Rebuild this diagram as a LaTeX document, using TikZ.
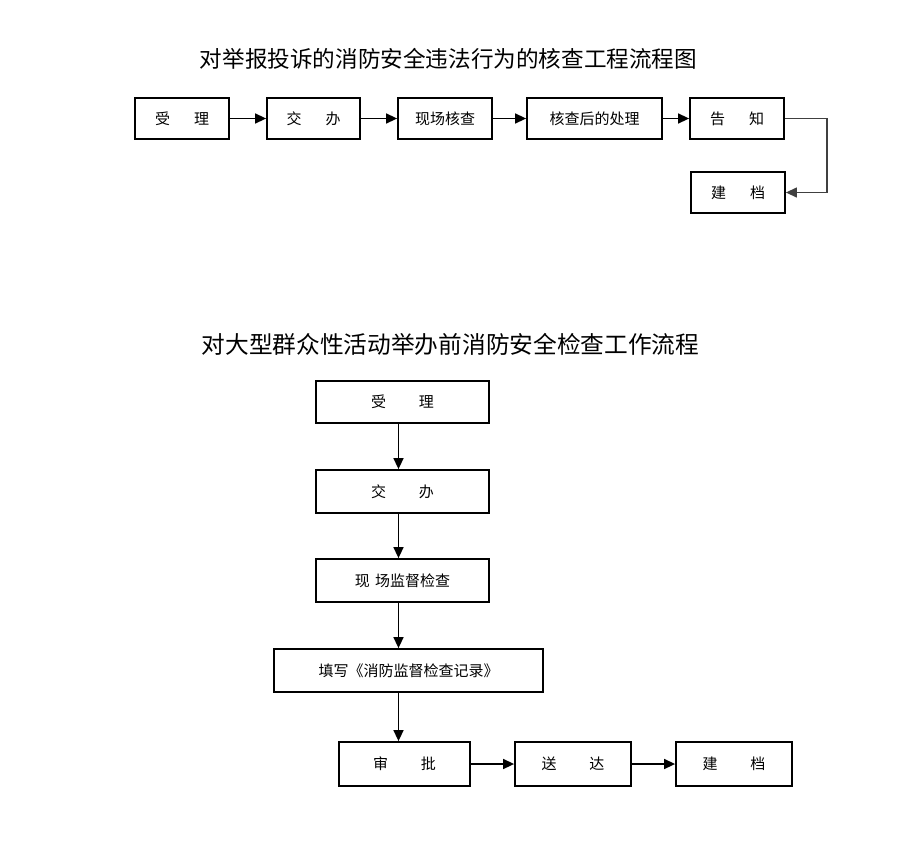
\documentclass[tikz,border=0pt]{standalone}
\usepackage{fontspec}
\setmainfont{Noto Sans CJK SC}
\usetikzlibrary{arrows.meta}
\begin{document}
\begin{tikzpicture}[x=1pt,y=-1pt,
  box/.style={draw=black,line width=1.8pt,rectangle,inner sep=0pt,font=\fontsize{15pt}{15pt}\selectfont},
  arr/.style={line width=1.5pt,-{Triangle[length=11pt,width=10pt]}},
  ttl/.style={inner sep=0pt}]
\useasboundingbox (0,0) rectangle (900,849);
% titles
\node[ttl,font=\fontsize{22.6pt}{23pt}\selectfont] (t1) at (448.5,59) {对举报投诉的消防安全违法行为的核查工程流程图};
\node[ttl,font=\fontsize{23.7pt}{24pt}\selectfont] (t2) at (450.5,344) {对大型群众性活动举办前消防安全检查工作流程};
% top flow
\node[box,minimum width=94pt,minimum height=41pt] (a1) at (182,118.5) {受\hspace{1.6em}理};
\node[box,minimum width=93pt,minimum height=41pt] (a2) at (313.5,118.5) {交\hspace{1.6em}办};
\node[box,minimum width=94pt,minimum height=41pt] (a3) at (445,118.5) {现场核查};
\node[box,minimum width=135pt,minimum height=41pt] (a4) at (594.5,118.5) {核查后的处理};
\node[box,minimum width=94pt,minimum height=41pt] (a5) at (737,118.5) {告\hspace{1.6em}知};
\node[box,minimum width=94pt,minimum height=41pt] (a6) at (738,192.5) {建\hspace{1.6em}档};
\draw[arr] (a1.east) -- (a2.west);
\draw[arr] (a2.east) -- (a3.west);
\draw[arr] (a3.east) -- (a4.west);
\draw[arr] (a4.east) -- (a5.west);
\coordinate (turn) at (827,0);
\draw[arr,line width=1.3pt,draw=black!75] (a5.east) -- (a5.east -| turn) -- (a6.east -| turn) -- (a6.east);
% bottom flow
\node[box,minimum width=173pt,minimum height=42pt] (b1) at (402.5,402) {受\hspace{2.2em}理};
\node[box,minimum width=173pt,minimum height=43pt] (b2) at (402.5,491.5) {交\hspace{2.2em}办};
\node[box,minimum width=173pt,minimum height=43pt] (b3) at (402.5,580.5) {现\hspace{0.35em}场监督检查};
\node[box,minimum width=269pt,minimum height=43pt] (b4) at (408.5,670.5) {填写《消防监督检查记录》};
\node[box,minimum width=131pt,minimum height=44pt] (b5) at (404.5,764) {审\hspace{2.2em}批};
\node[box,minimum width=116pt,minimum height=44pt] (b6) at (573,764) {送\hspace{2.2em}达};
\node[box,minimum width=116pt,minimum height=44pt] (b7) at (734,764) {建\hspace{2.2em}档};
\coordinate (vx) at (398.5,0);
\draw[arr] (b1.south -| vx) -- (b2.north -| vx);
\draw[arr] (b2.south -| vx) -- (b3.north -| vx);
\draw[arr] (b3.south -| vx) -- (b4.north -| vx);
\draw[arr] (b4.south -| vx) -- (b5.north -| vx);
\draw[arr] (b5.east) -- (b6.west);
\draw[arr] (b6.east) -- (b7.west);
\end{tikzpicture}
\end{document}
